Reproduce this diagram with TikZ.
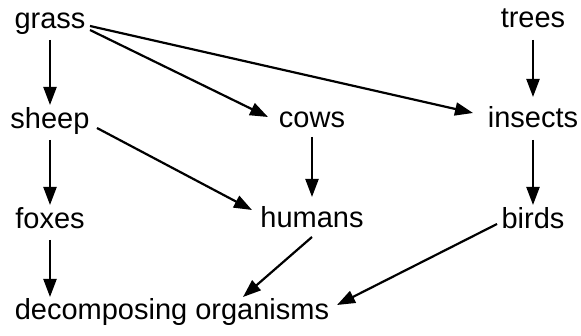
\documentclass[tikz,border=0pt]{standalone}
\usepackage{fontspec}
\setmainfont{Liberation Sans}
\usetikzlibrary{arrows.meta,calc}
\tikzset{
  lbl/.style={anchor=base,inner sep=0pt,font=\fontsize{29}{32}\selectfont},
  arr/.style={line width=2.2pt,-{Triangle[length=18pt,width=13pt]}}
}
\begin{document}
\begin{tikzpicture}[x=1pt,y=-1pt]
\useasboundingbox (0,0) rectangle (581,336);
\node[lbl] (grass) at (50,29) {grass};
\node[lbl] (trees) at (533,28) {trees};
\node[lbl] (sheep) at (50,129) {sheep};
\node[lbl] (cows) at (312,128) {cows};
\node[lbl] (insects) at (533,128) {insects};
\node[lbl] (foxes) at (50,229) {foxes};
\node[lbl] (humans) at (312,228) {humans};
\node[lbl] (birds) at (533,229) {birds};
\node[lbl] (decomp) at (172,320) {decomposing organisms};
\draw[arr] ($(grass.base)+(0,11)$) -- ($(sheep.base)+(0,-24)$);
\draw[arr] ($(grass.base)+(40,1)$) -- ($(cows.base)+(-44,-11)$);
\draw[arr] ($(grass.base)+(40,-3)$) -- ($(insects.base)+(-60,-15)$);
\draw[arr] ($(trees.base)+(0,12)$) -- ($(insects.base)+(0,-31)$);
\draw[arr] ($(sheep.base)+(0,11)$) -- ($(foxes.base)+(0,-24)$);
\draw[arr] ($(sheep.base)+(47,-1)$) -- ($(humans.base)+(-60,-18)$);
\draw[arr] ($(cows.base)+(0,9)$) -- ($(humans.base)+(0,-31)$);
\draw[arr] ($(insects.base)+(0,12)$) -- ($(birds.base)+(0,-24)$);
\draw[arr] ($(foxes.base)+(0,11)$) -- ($(decomp.base)+(-122,-23)$);
\draw[arr] ($(humans.base)+(0,9)$) -- ($(decomp.base)+(71,-23)$);
\draw[arr] ($(birds.base)+(-36,-5)$) -- ($(decomp.base)+(165,-15)$);
\end{tikzpicture}
\end{document}
